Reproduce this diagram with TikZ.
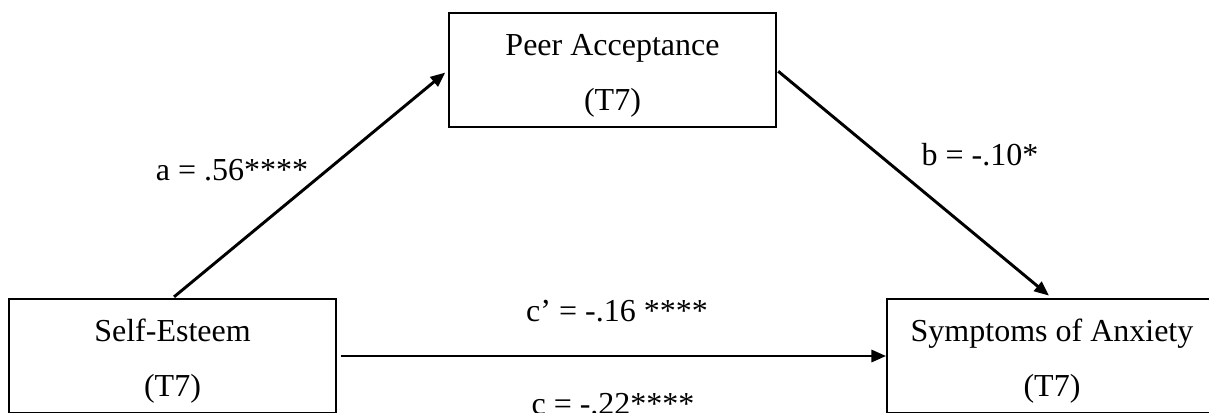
\documentclass[tikz,border=0pt]{standalone}
\usepackage{fontspec}
\setmainfont{Liberation Serif}
\usetikzlibrary{arrows.meta}

% pushes the first line of a box down a little
\newcommand{\boxstrut}{\rule{0pt}{25pt}}

\begin{document}
\begin{tikzpicture}[x=0.75pt, y=-0.75pt]
  % Frame of the whole figure
  \useasboundingbox (0,0) rectangle (1209,412);

  % Centres of the three variables
  \coordinate (C1) at (172.5,356);
  \coordinate (C2) at (612.5,70);
  \coordinate (C3) at (1052,356);

  % --- Styles ---
  \tikzset{
    var box/.style={draw, line width=1.3pt, minimum width=245pt, minimum height=85.5pt,
      align=center, inner sep=0pt, font=\fontsize{24}{41}\selectfont},
    path arrow/.style={line width=2.2pt, -{Triangle[length=11pt, width=9pt]}},
    coef/.style={anchor=base, inner sep=0pt, font=\fontsize{24}{29}\selectfont}
  }

  % --- Draw the variables ---
  \node[var box] (esteem) at (C1) {\boxstrut Self-Esteem\\(T7)};
  \node[var box] (peer) at (C2) {\boxstrut Peer Acceptance\\(T7)};
  \node[var box, minimum width=247.5pt] (anxiety) at (C3) {\boxstrut Symptoms of Anxiety\\(T7)};

  % --- Draw the paths ---
  % a path and b path through the mediator
  \draw[path arrow, shorten <=1.5pt, shorten >=3pt] (esteem.north) -- (peer.west);
  \draw[path arrow, shorten <=1.5pt, shorten >=3pt] (peer.east) -- (anxiety.north);
  % direct path
  \draw[path arrow, shorten <=3pt] (esteem.east) -- (anxiety.west);

  % --- Label the coefficients ---
  \node[coef] (coefa) at (232,180) {a = .56****};
  \node[coef] (coefb) at (980,165) {b = -.10*};
  \node[coef] (coefcp) at (617,321) {c’ = -.16 ****};
  \node[coef] (coefc) at (613,414) {c = -.22****};

\end{tikzpicture}
\end{document}
